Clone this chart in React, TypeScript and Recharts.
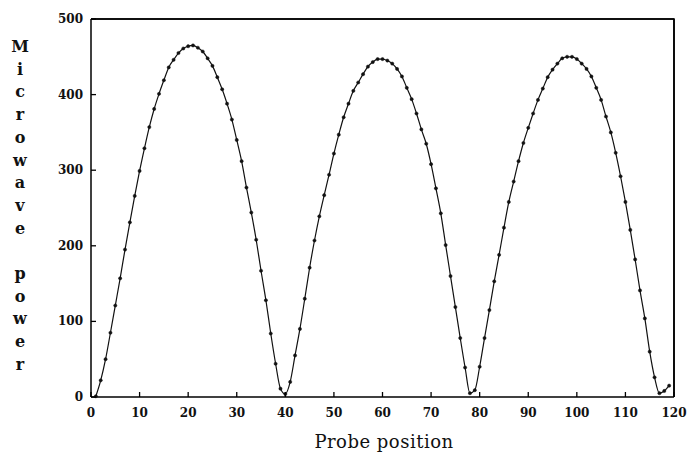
import React from 'react';
import { LineChart, Line, XAxis, YAxis, ReferenceLine } from 'recharts';

const probePositions = [
  1, 2, 3, 4, 5, 6, 7, 8, 9, 10, 11, 12, 13, 14, 15, 16, 17, 18, 19, 20,
  21, 22, 23, 24, 25, 26, 27, 28, 29, 30, 31, 32, 33, 34, 35, 36, 37, 38, 39, 40,
  41, 42, 43, 44, 45, 46, 47, 48, 49, 50, 51, 52, 53, 54, 55, 56, 57, 58, 59, 60,
  61, 62, 63, 64, 65, 66, 67, 68, 69, 70, 71, 72, 73, 74, 75, 76, 77, 78, 79, 80,
  81, 82, 83, 84, 85, 86, 87, 88, 89, 90, 91, 92, 93, 94, 95, 96, 97, 98, 99, 100,
  101, 102, 103, 104, 105, 106, 107, 108, 109, 110, 111, 112, 113, 114, 115, 116, 117, 118, 119,
];

// positions 1..40
const powerHump1 = [
  1, 22, 50, 85, 121, 157, 195, 231, 266, 299, 329, 357, 381, 401, 419, 436, 446, 455, 461, 464,
  465, 462, 457, 448, 438, 423, 407, 388, 367, 340, 312, 277, 244, 208, 167, 128, 84, 44, 11, 4,
];
// positions 41..78
const powerHump2 = [
  20, 55, 90, 130, 171, 207, 239, 267, 294, 322, 347, 370, 388, 405, 416, 427, 437, 443, 447, 447,
  445, 441, 434, 424, 409, 394, 375, 354, 335, 308, 276, 243, 201, 160, 119, 78, 39, 5,
];
// positions 79..119
const powerHump3 = [
  9, 40, 78, 115, 153, 188, 224, 258, 285, 312, 336, 356, 375, 393, 408, 423, 433, 441, 448, 450,
  450, 447, 441, 434, 424, 409, 393, 371, 350, 323, 292, 258, 221, 182, 141, 104, 60, 26, 5, 8, 15,
];

const microwavePower = [...powerHump1, ...powerHump2, ...powerHump3];

const xTicks = [0, 10, 20, 30, 40, 50, 60, 70, 80, 90, 100, 110, 120];
const yTicks = [0, 100, 200, 300, 400, 500];
const yTitle = 'Microwave power';
const xTitle = 'Probe position';

const data = probePositions.map((pos, i) => ({ pos, power: microwavePower[i] }));

const TICK_FONT = '"DejaVu Serif", serif';
const CHART_W = 688;
const CHART_H = 461;
const MARGIN = { top: 19, right: 14, left: 0, bottom: 0 };
const Y_AXIS_W = 91;
const X_AXIS_H = 64;
const PLOT_X = MARGIN.left + Y_AXIS_W;
const PLOT_Y = MARGIN.top;
const PLOT_W = CHART_W - MARGIN.left - MARGIN.right - Y_AXIS_W;
const PLOT_H = CHART_H - MARGIN.top - MARGIN.bottom - X_AXIS_H;

const XTick = (props: any) => {
  const { x, y, payload } = props;
  return (
    <g>
      <path d={`M${x},${y}V${y - 5}`} stroke="#000" strokeWidth={1.3} fill="none" />
      <text
        x={x}
        y={y + 20}
        textAnchor="middle"
        fontFamily={TICK_FONT}
        fontWeight="bold"
        fontSize={12}
        fill="#111"
      >
        {payload.value}
      </text>
    </g>
  );
};

const YTick = (props: any) => {
  const { x, y, payload } = props;
  return (
    <g>
      <path d={`M${x},${y}H${x + 5}`} stroke="#000" strokeWidth={1.3} fill="none" />
      <text
        x={x - 8}
        y={y + 4}
        textAnchor="end"
        fontFamily={TICK_FONT}
        fontWeight="bold"
        fontSize={12}
        fill="#111"
      >
        {payload.value}
      </text>
    </g>
  );
};

const VerticalTitle = () => {
  const chars = yTitle.split('');
  return (
    <g>
      <path
        d={`M${PLOT_X},${PLOT_Y}H${PLOT_X + PLOT_W}V${PLOT_Y + PLOT_H}`}
        stroke="#000"
        strokeWidth={1.6}
        fill="none"
      />
      {chars.map((c, i) =>
        c === ' ' ? null : (
          <text
            key={i}
            x={20}
            y={52 + i * 22.7}
            textAnchor="middle"
            fontFamily={TICK_FONT}
            fontWeight="bold"
            fontSize={16}
            fill="#111"
          >
            {c}
          </text>
        )
      )}
    </g>
  );
};

const XTitle = () => (
  <text
    x={384}
    y={448}
    textAnchor="middle"
    fontFamily={TICK_FONT}
    fontSize={18}
    letterSpacing={0.5}
    fill="#111"
  >
    {xTitle}
  </text>
);

export default function App() {
  return (
    <div style={{ position: 'absolute', left: 0, top: 0, width: CHART_W, height: CHART_H, background: '#fff' }}>
      <LineChart width={CHART_W} height={CHART_H} data={data} margin={MARGIN}>
        <XAxis
          dataKey="pos"
          type="number"
          domain={[0, 120]}
          ticks={xTicks}
          interval={0}
          height={X_AXIS_H}
          tickSize={0}
          tickMargin={0}
          tickLine={false}
          tick={<XTick />}
          axisLine={{ stroke: '#000', strokeWidth: 1.5 }}
          label={<XTitle />}
        />
        <YAxis
          type="number"
          domain={[0, 500]}
          ticks={yTicks}
          interval={0}
          width={Y_AXIS_W}
          tickSize={0}
          tickMargin={0}
          tickLine={false}
          tick={<YTick />}
          axisLine={{ stroke: '#000', strokeWidth: 1.5 }}
          label={<VerticalTitle />}
        />
        <ReferenceLine y={500} stroke="#000" strokeWidth={1.5} ifOverflow="visible" />
        <ReferenceLine x={120} stroke="#000" strokeWidth={1.5} ifOverflow="visible" />
        <Line
          dataKey="power"
          type="monotone"
          stroke="#111"
          strokeWidth={1.2}
          dot={{ r: 1.6, fill: '#111', stroke: '#111', strokeWidth: 0.5 }}
          activeDot={false}
          isAnimationActive={false}
        />
      </LineChart>
    </div>
  );
}
